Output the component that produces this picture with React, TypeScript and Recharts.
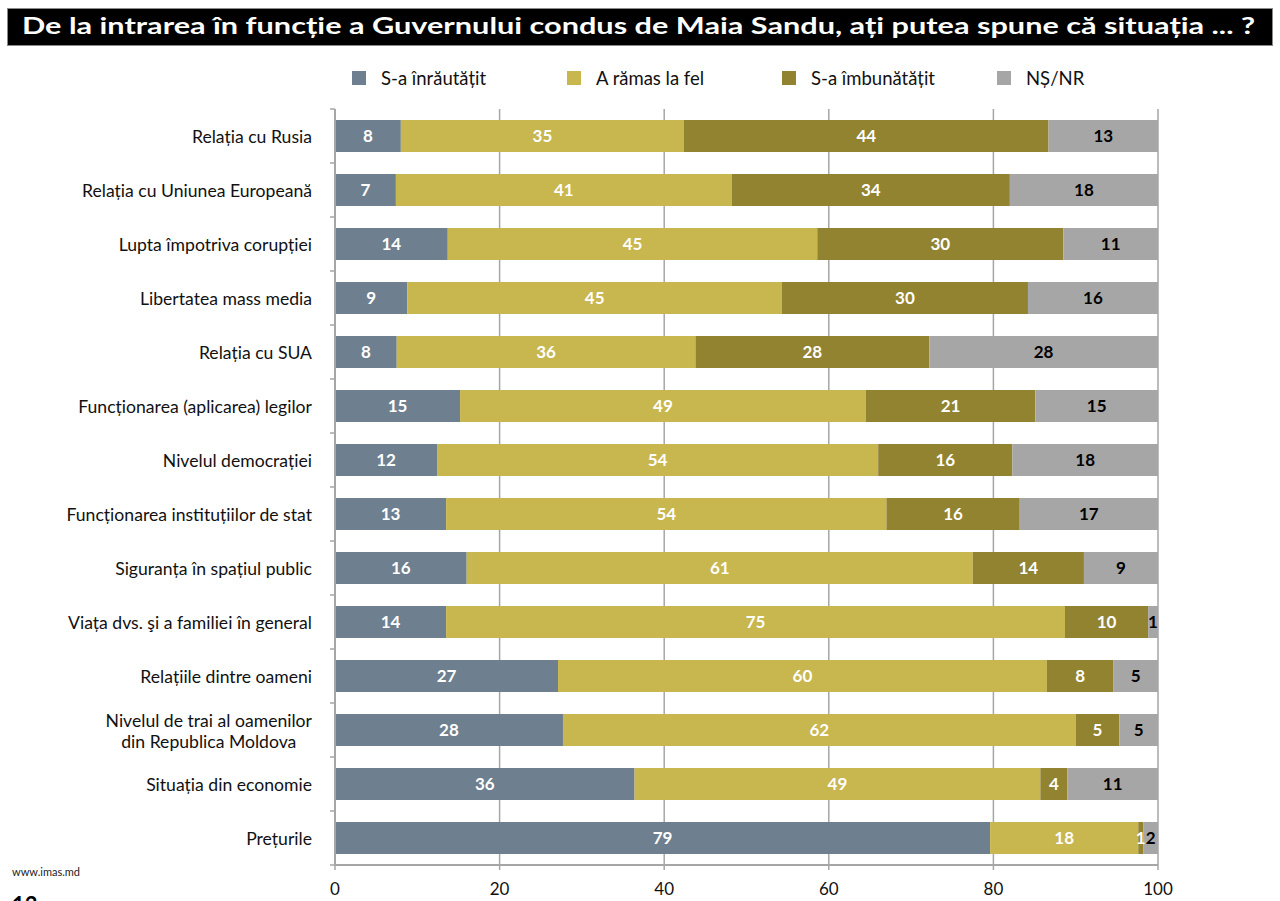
import { BarChart, Bar, XAxis, YAxis, CartesianGrid, LabelList } from 'recharts';

const categories = [
  'Relația cu Rusia',
  'Relația cu Uniunea Europeană',
  'Lupta împotriva corupției',
  'Libertatea mass media',
  'Relația cu SUA',
  'Funcționarea (aplicarea) legilor',
  'Nivelul democrației',
  'Funcționarea instituțiilor de stat',
  'Siguranța în spațiul public',
  'Viața dvs. şi a familiei în general',
  'Relațiile dintre oameni',
  'Nivelul de trai al oamenilor\ndin Republica Moldova',
  'Situația din economie',
  'Prețurile',
];

// bar lengths as drawn
const worse = [8.0, 7.4, 13.7, 8.8, 7.5, 15.2, 12.4, 13.5, 16.0, 13.5, 27.1, 27.7, 36.4, 79.6];
const same = [34.4, 40.8, 44.9, 45.5, 36.3, 49.3, 53.6, 53.5, 61.5, 75.2, 59.4, 62.3, 49.3, 18.0];
const better = [44.3, 33.8, 29.9, 29.9, 28.4, 20.6, 16.3, 16.2, 13.5, 10.1, 8.1, 5.3, 3.3, 0.6];
const dkna = [13.3, 18.0, 11.5, 15.8, 27.8, 14.9, 17.7, 16.8, 9.0, 1.2, 5.4, 4.7, 11.0, 1.8];

// printed labels
const worseLbl = [8, 7, 14, 9, 8, 15, 12, 13, 16, 14, 27, 28, 36, 79];
const sameLbl = [35, 41, 45, 45, 36, 49, 54, 54, 61, 75, 60, 62, 49, 18];
const betterLbl = [44, 34, 30, 30, 28, 21, 16, 16, 14, 10, 8, 5, 4, 1];
const dknaLbl = [13, 18, 11, 16, 28, 15, 18, 17, 9, 1, 5, 5, 11, 2];

const xTicks = [0, 20, 40, 60, 80, 100];

const seriesNames = ['S-a înrăutățit', 'A rămas la fel', 'S-a îmbunătățit', 'NȘ/NR'];
const seriesColors = ['#6e7f8f', '#c8b64e', '#918330', '#a6a6a6'];

const title =
  'De la intrarea în funcție a Guvernului condus de Maia Sandu, ați putea spune că situația ... ?';

const FONT = 'Lato, "Open Sans", sans-serif';
const PLOT_LEFT = 335;
const BAND = 54;
const LABEL_SIZE = 17.6;

const data = categories.map((name, i) => ({
  name,
  worse: worse[i],
  same: same[i],
  better: better[i],
  dkna: dkna[i],
  worseLbl: worseLbl[i],
  sameLbl: sameLbl[i],
  betterLbl: betterLbl[i],
  dknaLbl: dknaLbl[i],
}));

let ctx: CanvasRenderingContext2D | null = null;
const measure = (s: string) => {
  if (!ctx) ctx = document.createElement('canvas').getContext('2d');
  if (!ctx) return s.length * 8;
  ctx.font = `${LABEL_SIZE}px Lato`;
  return ctx.measureText(s).width;
};

const CategoryTick = (props: any) => {
  const { y, payload, index } = props;
  const lines = String(payload.value).split('\n');
  const right = PLOT_LEFT - 23;
  const multi = lines.length > 1;
  const w = Math.max(...lines.map(measure));
  const tx = multi ? right - w / 2 : right;
  const lh = 21;
  const y0 = y - ((lines.length - 1) * lh) / 2;
  return (
    <g>
      {index === 0 && (
        <line x1={PLOT_LEFT - 5} x2={PLOT_LEFT} y1={y - BAND / 2} y2={y - BAND / 2} stroke="#a6a6a6" strokeWidth={1.5} />
      )}
      <line x1={PLOT_LEFT - 5} x2={PLOT_LEFT} y1={y + BAND / 2} y2={y + BAND / 2} stroke="#a6a6a6" strokeWidth={1.5} />
      <text
        x={tx}
        y={y0}
        textAnchor={multi ? 'middle' : 'end'}
        dominantBaseline="central"
        fontFamily={FONT}
        fontSize={LABEL_SIZE}
        fill="#111"
      >
        {lines.map((l, k) => (
          <tspan key={k} x={tx} dy={k === 0 ? 0 : lh}>
            {l}
          </tspan>
        ))}
      </text>
    </g>
  );
};

const labelStyle = { fontFamily: FONT, fontSize: 17, fontWeight: 700 };

export default function App() {
  return (
    <div
      style={{
        position: 'absolute',
        left: 0,
        top: 0,
        width: 1280,
        height: 901,
        background: '#fff',
        overflow: 'hidden',
      }}
    >
      <svg width={1280} height={50} style={{ position: 'absolute', left: 0, top: 0 }}>
        <rect x={7.5} y={8.5} width={1265} height={37} fill="#000" stroke="#8a8a8a" strokeWidth={1} />
        <text
          x={22}
          y={34}
          fill="#fff"
          fontFamily={FONT}
          fontWeight={700}
          fontSize={23.5}
          textLength={1233}
          lengthAdjust="spacingAndGlyphs"
        >
          {title}
        </text>
      </svg>

      <div style={{ position: 'absolute', left: 0, top: 66, width: 1280, height: 24 }}>
        {seriesNames.map((n, i) => (
          <div
            key={n}
            style={{
              position: 'absolute',
              left: 352 + i * 215,
              top: 0,
              height: 24,
              display: 'flex',
              alignItems: 'center',
              fontFamily: FONT,
              fontSize: 18.5,
              color: '#111',
              whiteSpace: 'nowrap',
            }}
          >
            <span style={{ display: 'inline-block', width: 14, height: 14, background: seriesColors[i], marginRight: 15 }} />
            {n}
          </div>
        ))}
      </div>

      <div style={{ position: 'absolute', left: 0, top: 0 }}>
        <BarChart
          width={1280}
          height={901}
          data={data}
          layout="vertical"
          margin={{ top: 109, right: 122, bottom: 0, left: 0 }}
          barSize={32}
        >
          <CartesianGrid horizontal={false} stroke="#a6a6a6" strokeWidth={1.5} />
          <XAxis
            type="number"
            domain={[0, 100]}
            ticks={xTicks}
            interval={0}
            height={36}
            tickSize={5}
            tickMargin={13}
            tick={{ fill: '#111', fontSize: 17, fontFamily: FONT }}
            axisLine={{ stroke: '#a6a6a6', strokeWidth: 2 }}
            tickLine={{ stroke: '#a6a6a6', strokeWidth: 1.5 }}
          />
          <YAxis
            type="category"
            dataKey="name"
            width={335}
            interval={0}
            tick={<CategoryTick />}
            tickLine={false}
            axisLine={{ stroke: '#a6a6a6', strokeWidth: 2 }}
          />
          <Bar dataKey="worse" stackId="s" fill={seriesColors[0]} isAnimationActive={false}>
            <LabelList dataKey="worseLbl" position="center" fill="#fff" style={labelStyle} />
          </Bar>
          <Bar dataKey="same" stackId="s" fill={seriesColors[1]} isAnimationActive={false}>
            <LabelList dataKey="sameLbl" position="center" fill="#fff" style={labelStyle} />
          </Bar>
          <Bar dataKey="better" stackId="s" fill={seriesColors[2]} isAnimationActive={false}>
            <LabelList dataKey="betterLbl" position="center" fill="#fff" style={labelStyle} />
          </Bar>
          <Bar dataKey="dkna" stackId="s" fill={seriesColors[3]} isAnimationActive={false}>
            <LabelList dataKey="dknaLbl" position="center" fill="#000" style={labelStyle} />
          </Bar>
        </BarChart>
      </div>

      <div style={{ position: 'absolute', left: 12, top: 865, fontFamily: FONT, fontSize: 11, color: '#222' }}>
        www.imas.md
      </div>
      <div
        style={{ position: 'absolute', left: 12, top: 891, fontFamily: FONT, fontSize: 22, fontWeight: 700, color: '#000' }}
      >
        13
      </div>
    </div>
  );
}
